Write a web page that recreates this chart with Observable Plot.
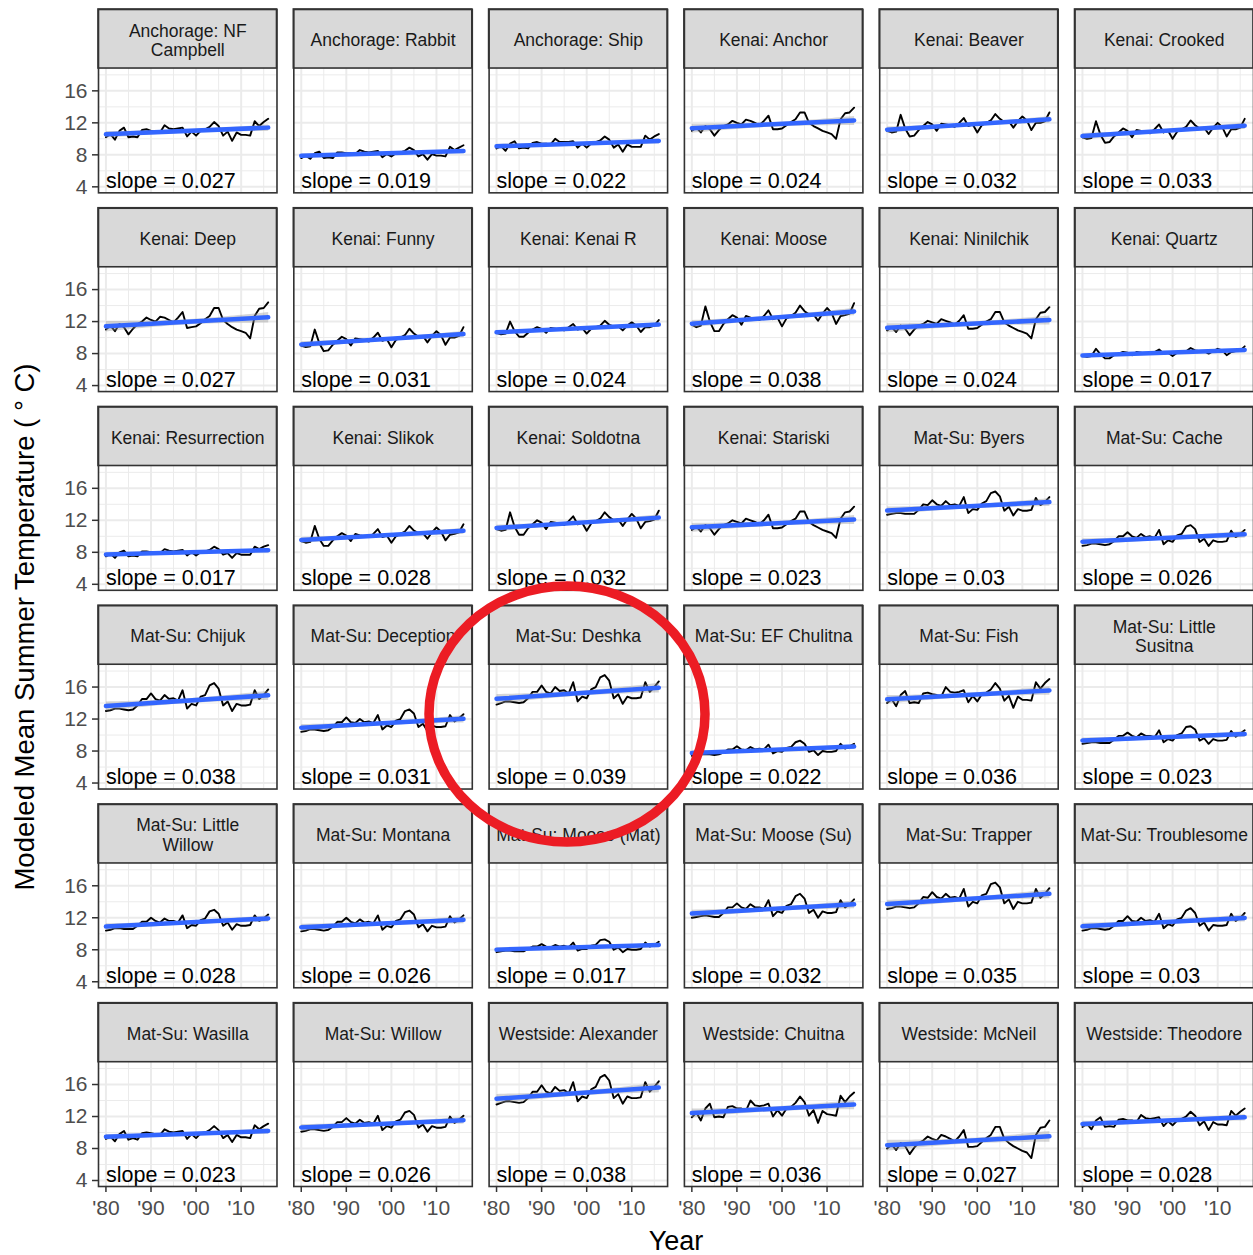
<!DOCTYPE html>
<html>
<head>
<meta charset="utf-8">
<script src="https://cdn.jsdelivr.net/npm/d3@7"></script>
<script src="https://cdn.jsdelivr.net/npm/@observablehq/plot@0.6"></script>
<style>
  html, body { margin: 0; padding: 0; background: #fff; overflow: hidden; }
  #wrap { position: relative; width: 1253px; height: 1255px; font-family: "Liberation Sans", Arial, Helvetica, sans-serif; }
  #chart { position: absolute; left: 0; top: 0; }
  .ytitle { position: absolute; left: 25px; top: 627px; transform: translate(-50%, -50%) rotate(-90deg); font-size: 27.5px; white-space: nowrap; color: #000; }
  .xtitle { position: absolute; left: 676px; top: 1241px; transform: translate(-50%, -50%); font-size: 27px; color: #000; white-space: nowrap; }
  #overlay { position: absolute; left: 0; top: 0; pointer-events: none; }
</style>
</head>
<body>
<div id="wrap">
  <div id="chart"></div>
  <div class="ytitle">Modeled Mean Summer Temperature ( ° C)</div>
  <div class="xtitle">Year</div>
  <svg id="overlay" width="1253" height="1255"><ellipse cx="567" cy="714" rx="138" ry="128" fill="none" stroke="#EC1C24" stroke-width="9.5"/></svg>
</div>
<script>
// ---------- data ----------
const years = [1980,1981,1982,1983,1984,1985,1986,1987,1988,1989,1990,1991,1992,1993,1994,1995,1996,1997,1998,1999,2000,2001,2002,2003,2004,2005,2006,2007,2008,2009,2010,2011,2012,2013,2014,2015,2016];

const sites = ["Anchorage: NF Campbell","Anchorage: Rabbit","Anchorage: Ship","Kenai: Anchor","Kenai: Beaver","Kenai: Crooked",
  "Kenai: Deep","Kenai: Funny","Kenai: Kenai R","Kenai: Moose","Kenai: Ninilchik","Kenai: Quartz",
  "Kenai: Resurrection","Kenai: Slikok","Kenai: Soldotna","Kenai: Stariski","Mat-Su: Byers","Mat-Su: Cache",
  "Mat-Su: Chijuk","Mat-Su: Deception","Mat-Su: Deshka","Mat-Su: EF Chulitna","Mat-Su: Fish","Mat-Su: Little Susitna",
  "Mat-Su: Little Willow","Mat-Su: Montana","Mat-Su: Moose (Mat)","Mat-Su: Moose (Su)","Mat-Su: Trapper","Mat-Su: Troublesome",
  "Mat-Su: Wasilla","Mat-Su: Willow","Westside: Alexander","Westside: Chuitna","Westside: McNeil","Westside: Theodore"];

const stripLabels = ["Anchorage: NF\nCampbell","Anchorage: Rabbit","Anchorage: Ship","Kenai: Anchor","Kenai: Beaver","Kenai: Crooked",
  "Kenai: Deep","Kenai: Funny","Kenai: Kenai R","Kenai: Moose","Kenai: Ninilchik","Kenai: Quartz",
  "Kenai: Resurrection","Kenai: Slikok","Kenai: Soldotna","Kenai: Stariski","Mat-Su: Byers","Mat-Su: Cache",
  "Mat-Su: Chijuk","Mat-Su: Deception","Mat-Su: Deshka","Mat-Su: EF Chulitna","Mat-Su: Fish","Mat-Su: Little\nSusitna",
  "Mat-Su: Little\nWillow","Mat-Su: Montana","Mat-Su: Moose (Mat)","Mat-Su: Moose (Su)","Mat-Su: Trapper","Mat-Su: Troublesome",
  "Mat-Su: Wasilla","Mat-Su: Willow","Westside: Alexander","Westside: Chuitna","Westside: McNeil","Westside: Theodore"];

const slopes = [0.027,0.019,0.022,0.024,0.032,0.033,
  0.027,0.031,0.024,0.038,0.024,0.017,
  0.017,0.028,0.032,0.023,0.03,0.026,
  0.038,0.031,0.039,0.022,0.036,0.023,
  0.028,0.026,0.017,0.032,0.035,0.03,
  0.023,0.026,0.038,0.036,0.027,0.028];

const nfCampbell = [10.2,10.6,9.9,11.0,11.4,10.2,10.3,10.2,11.1,11.2,11.0,11.0,10.8,11.7,11.3,11.2,11.3,11.4,10.3,10.9,10.4,11.0,11.2,11.5,12.1,11.6,10.4,10.9,9.75,10.8,10.5,10.5,10.4,12.2,11.6,12.1,12.5];
const rabbit = [7.6,7.9,7.5,8.2,8.4,7.6,7.7,7.6,8.3,8.3,8.2,8.2,8.1,8.6,8.4,8.3,8.4,8.5,7.7,8.1,7.8,8.2,8.3,8.5,8.9,8.6,7.8,8.1,7.4,8.1,7.9,7.9,7.8,9.0,8.6,8.9,9.2];
const ship = [8.8,9.1,8.5,9.4,9.7,8.8,8.9,8.8,9.5,9.6,9.4,9.4,9.3,10.0,9.6,9.6,9.6,9.7,8.9,9.4,8.9,9.4,9.6,9.8,10.3,9.9,8.9,9.3,8.4,9.3,9.0,9.0,9.0,10.4,9.9,10.3,10.6];
const anchor = [11.0,11.4,10.8,11.6,11.2,10.4,11.1,11.6,11.8,12.25,12.0,11.8,12.4,12.25,12.0,11.7,12.25,12.9,11.2,11.2,11.3,11.7,12.1,12.45,13.3,13.3,12.0,11.6,11.3,11.0,10.8,10.6,10.0,12.45,13.2,13.3,13.9];
const beaver = [11.0,10.8,10.9,13.0,11.3,10.3,10.4,11.1,11.6,12.1,11.8,11.0,11.9,11.8,11.7,11.5,12.0,12.6,11.6,11.8,10.8,11.7,12.0,12.3,13.1,12.5,12.1,12.2,11.4,12.2,12.8,12.3,11.1,12.0,12.0,12.2,13.3];
const crooked = [10.2,10.0,10.1,12.2,10.5,9.5,9.6,10.3,10.8,11.3,11.0,10.2,11.1,11.0,10.9,10.7,11.2,11.8,10.8,11.0,10.0,10.9,11.2,11.5,12.3,11.7,11.3,11.4,10.6,11.4,12.0,11.5,10.3,11.2,11.2,11.4,12.5];
const deep = [11.0,11.5,10.8,11.7,11.3,10.4,11.1,11.7,12.0,12.5,12.2,12.0,12.6,12.5,12.2,11.9,12.5,13.2,11.2,11.3,11.4,11.8,12.3,12.7,13.7,13.7,12.2,11.7,11.3,11.0,10.8,10.6,9.9,12.7,13.6,13.7,14.4];
const funny = [9.0,8.8,8.9,11.0,9.3,8.3,8.4,9.1,9.6,10.1,9.8,9.0,9.9,9.8,9.7,9.5,10.0,10.6,9.6,9.8,8.8,9.7,10.0,10.3,11.1,10.5,10.1,10.2,9.4,10.2,10.8,10.3,9.1,10.0,10.0,10.2,11.3];
const kenaiR = [10.6,10.4,10.5,12.0,10.8,10.1,10.1,10.6,11.0,11.3,11.1,10.6,11.2,11.1,11.0,10.9,11.3,11.7,11.0,11.2,10.5,11.1,11.3,11.5,12.1,11.6,11.4,11.4,10.9,11.5,11.9,11.5,10.7,11.3,11.3,11.5,12.2];
const kenaiMoose = [11.6,11.3,11.5,13.9,12.0,10.8,10.8,11.7,12.3,12.8,12.5,11.6,12.7,12.5,12.3,12.2,12.7,13.4,12.3,12.5,11.4,12.4,12.7,13.1,14.0,13.3,12.9,12.9,12.1,13.0,13.7,13.1,11.7,12.7,12.8,13.0,14.3];
const ninilchik = [10.9,11.3,10.7,11.5,11.1,10.3,11.0,11.5,11.7,12.1,11.9,11.7,12.3,12.1,11.9,11.6,12.1,12.8,11.1,11.1,11.2,11.6,12.0,12.3,13.2,13.2,11.9,11.5,11.2,10.9,10.7,10.5,9.9,12.3,13.1,13.2,13.8];
const quartz = [7.7,7.6,7.7,8.6,7.9,7.4,7.4,7.8,8.0,8.2,8.1,7.8,8.2,8.1,8.0,8.0,8.2,8.5,8.0,8.1,7.7,8.1,8.2,8.3,8.7,8.4,8.3,8.3,8.0,8.3,8.6,8.4,7.8,8.2,8.3,8.4,8.9];
const resurrection = [7.5,7.8,7.3,8.0,8.2,7.5,7.6,7.5,8.1,8.1,8.0,8.0,7.9,8.4,8.2,8.1,8.2,8.3,7.6,8.0,7.6,8.0,8.1,8.3,8.7,8.4,7.7,7.9,7.3,7.9,7.7,7.7,7.7,8.7,8.4,8.7,8.9];
const slikok = [9.4,9.2,9.3,11.3,9.7,8.8,8.8,9.5,10.0,10.4,10.1,9.4,10.3,10.1,10.0,9.9,10.3,10.9,9.9,10.1,9.2,10.0,10.3,10.6,11.3,10.7,10.4,10.4,9.7,10.5,11.1,10.6,9.5,10.2,10.3,10.5,11.5];
const soldotna = [10.9,10.7,10.8,13.0,11.2,10.2,10.2,11.0,11.5,12.0,11.7,10.9,11.8,11.7,11.6,11.4,11.9,12.5,11.5,11.7,10.7,11.6,11.9,12.2,13.0,12.4,12.0,12.1,11.3,12.1,12.8,12.2,11.0,11.8,11.9,12.1,13.2];
const stariski = [10.8,11.2,10.6,11.4,11.0,10.2,10.9,11.4,11.6,12.0,11.8,11.6,12.2,12.0,11.8,11.5,12.0,12.7,11.0,11.0,11.1,11.5,11.9,12.2,13.1,13.1,11.8,11.4,11.1,10.8,10.6,10.4,9.8,12.2,13.0,13.1,13.7];
const byers = [12.7,12.8,12.9,12.9,12.8,12.8,12.8,13.3,14.0,13.9,14.5,14.0,13.8,14.4,13.9,14.0,13.8,14.9,12.9,13.4,13.3,14.1,14.4,15.4,15.6,15.0,13.2,13.7,12.6,13.4,13.2,13.2,13.3,14.8,13.9,14.3,14.9];
const cache = [8.8,8.9,9.1,9.1,9.0,8.9,9.0,9.4,10.0,10.0,10.5,10.0,9.8,10.3,9.9,10.0,9.8,10.8,9.0,9.5,9.3,10.1,10.3,11.2,11.4,10.9,9.3,9.7,8.8,9.5,9.3,9.3,9.4,10.7,9.9,10.3,10.8];
const chijuk = [13.0,13.1,13.3,13.3,13.2,13.1,13.2,13.7,14.5,14.5,15.2,14.5,14.3,15.0,14.5,14.6,14.3,15.6,13.3,13.9,13.7,14.8,15.0,16.2,16.5,15.8,13.7,14.2,13.0,13.9,13.7,13.7,13.8,15.6,14.5,15.0,15.7];
const deception = [10.4,10.5,10.7,10.7,10.6,10.5,10.6,11.0,11.6,11.6,12.2,11.6,11.5,12.0,11.6,11.7,11.5,12.5,10.7,11.2,11.0,11.8,12.0,13.0,13.2,12.7,11.0,11.4,10.5,11.2,11.0,11.0,11.1,12.5,11.7,12.1,12.6];
const deshka = [13.8,14.0,14.2,14.2,14.1,14.0,14.1,14.6,15.4,15.4,16.2,15.4,15.2,16.0,15.5,15.6,15.2,16.6,14.2,14.8,14.6,15.7,16.0,17.2,17.5,16.8,14.6,15.1,13.9,14.8,14.6,14.6,14.7,16.6,15.4,16.0,16.7];
const efChulitna = [7.4,7.5,7.6,7.6,7.6,7.5,7.6,7.8,8.2,8.2,8.6,8.2,8.1,8.5,8.2,8.3,8.2,8.8,7.7,8.0,7.9,8.4,8.5,9.1,9.3,8.9,7.9,8.1,7.5,8.0,7.9,7.9,8.0,8.9,8.3,8.6,8.9];
const fish = [14.0,14.5,13.6,15.0,15.5,14.0,14.1,14.0,15.2,15.3,15.1,15.0,14.8,16.0,15.4,15.3,15.4,15.6,14.1,14.9,14.2,15.1,15.3,15.7,16.5,15.8,14.3,14.9,13.4,14.8,14.4,14.4,14.3,16.6,15.8,16.5,17.0];
const littleSusitna = [8.9,9.0,9.1,9.1,9.0,9.0,9.0,9.4,9.9,9.9,10.3,9.9,9.7,10.2,9.9,9.9,9.7,10.6,9.1,9.5,9.3,10.0,10.2,11.0,11.1,10.7,9.3,9.6,8.9,9.5,9.3,9.3,9.4,10.5,9.8,10.2,10.6];
const littleWillow = [10.4,10.5,10.7,10.7,10.6,10.6,10.6,11.0,11.5,11.5,12.0,11.6,11.4,11.9,11.6,11.6,11.4,12.3,10.7,11.1,11.0,11.7,11.9,12.8,13.0,12.5,11.0,11.4,10.5,11.2,11.0,11.0,11.1,12.3,11.6,11.9,12.4];
const montana = [10.3,10.4,10.6,10.6,10.5,10.4,10.5,10.9,11.5,11.5,12.0,11.5,11.3,11.8,11.4,11.5,11.3,12.3,10.5,11.0,10.8,11.6,11.8,12.7,12.9,12.4,10.8,11.2,10.3,11.0,10.8,10.8,10.9,12.2,11.4,11.8,12.3];
const mooseMat = [7.7,7.8,7.9,7.9,7.8,7.8,7.8,8.1,8.4,8.4,8.7,8.4,8.3,8.6,8.4,8.5,8.3,8.9,7.9,8.1,8.1,8.5,8.6,9.2,9.3,9.0,8.0,8.3,7.7,8.1,8.0,8.0,8.1,8.9,8.4,8.6,9.0];
const mooseSu = [12.0,12.1,12.2,12.3,12.2,12.1,12.1,12.6,13.3,13.3,13.8,13.3,13.1,13.7,13.3,13.3,13.1,14.2,12.2,12.8,12.6,13.5,13.7,14.7,15.0,14.4,12.6,13.0,12.0,12.8,12.6,12.6,12.7,14.2,13.3,13.7,14.3];
const trapper = [13.1,13.2,13.4,13.4,13.3,13.2,13.3,13.8,14.6,14.5,15.2,14.6,14.4,15.0,14.5,14.6,14.4,15.6,13.4,14.0,13.8,14.8,15.0,16.2,16.4,15.8,13.8,14.3,13.1,14.0,13.8,13.8,13.9,15.6,14.5,15.0,15.7];
const troublesome = [10.4,10.5,10.7,10.7,10.6,10.5,10.6,11.0,11.6,11.6,12.2,11.6,11.5,12.0,11.6,11.7,11.5,12.5,10.7,11.2,11.0,11.8,12.0,12.9,13.2,12.6,11.0,11.4,10.4,11.1,11.0,11.0,11.1,12.5,11.6,12.0,12.6];
const wasilla = [9.2,9.5,8.9,9.8,10.2,9.1,9.3,9.1,9.9,10.0,9.9,9.8,9.7,10.4,10.1,10.0,10.1,10.2,9.2,9.8,9.3,9.9,10.0,10.3,10.8,10.3,9.3,9.7,8.8,9.7,9.4,9.4,9.3,10.9,10.4,10.8,11.1];
const willow = [10.1,10.2,10.4,10.4,10.3,10.2,10.3,10.7,11.3,11.3,11.8,11.3,11.1,11.6,11.2,11.3,11.1,12.1,10.3,10.8,10.6,11.4,11.6,12.5,12.7,12.2,10.6,11.0,10.1,10.8,10.6,10.6,10.7,12.0,11.2,11.6,12.1];
const alexander = [13.5,13.7,13.9,13.9,13.8,13.7,13.8,14.3,15.1,15.1,15.9,15.1,14.9,15.7,15.2,15.3,14.9,16.3,13.9,14.5,14.3,15.4,15.7,16.9,17.2,16.5,14.3,14.8,13.6,14.5,14.3,14.3,14.4,16.3,15.1,15.7,16.4];
const chuitna = [11.9,12.5,11.5,13.0,13.6,11.9,12.0,11.9,13.2,13.3,13.0,13.0,12.7,14.0,13.4,13.3,13.4,13.6,12.0,12.8,12.1,13.0,13.2,13.7,14.5,13.8,12.1,12.8,11.2,12.7,12.3,12.2,12.1,14.6,13.8,14.5,15.0];
const mcneil = [8.0,8.5,7.8,8.7,8.3,7.3,8.1,8.7,9.0,9.5,9.2,9.0,9.7,9.5,9.2,8.9,9.5,10.3,8.2,8.2,8.3,8.8,9.3,9.7,10.7,10.7,9.2,8.7,8.3,8.0,7.7,7.5,6.8,9.7,10.6,10.7,11.5];
const theodore = [10.7,11.1,10.4,11.5,11.9,10.7,10.8,10.7,11.6,11.7,11.5,11.5,11.3,12.2,11.8,11.7,11.8,11.9,10.8,11.4,10.9,11.5,11.7,12.0,12.6,12.1,10.9,11.4,10.3,11.3,11.0,11.0,10.9,12.7,12.1,12.6,13.0];

const series = [nfCampbell, rabbit, ship, anchor, beaver, crooked,
  deep, funny, kenaiR, kenaiMoose, ninilchik, quartz,
  resurrection, slikok, soldotna, stariski, byers, cache,
  chijuk, deception, deshka, efChulitna, fish, littleSusitna,
  littleWillow, montana, mooseMat, mooseSu, trapper, troublesome,
  wasilla, willow, alexander, chuitna, mcneil, theodore];

const yTicks = [4, 8, 12, 16];
const yMinor = [6, 10, 14, 18];
const xTicks = [1980, 1990, 2000, 2010];
const xMinor = [1985, 1995, 2005, 2015];

// ---------- layout (scale extents) ----------
const xDomain = [1978.35, 2017.95];
const yPanel = [3.25, 18.79];   // panel value range
const yTop = 26.17;             // strip sits above the panel inside each facet

const rows = [];
series.forEach((vals, k) => vals.forEach((t, i) => rows.push({
  site: sites[k], col: k % 6, row: Math.floor(k / 6), year: years[i], temp: t
})));
const panels = sites.map((s, k) => ({site: s, label: stripLabels[k], slope: slopes[k], col: k % 6, row: Math.floor(k / 6)}));

const FONT = '"Liberation Sans", Arial, Helvetica, sans-serif';

const chart = Plot.plot({
  width: 1253,
  height: 1255,
  marginLeft: 98,
  marginRight: 0,
  marginTop: 9,
  marginBottom: 69,
  facet: {marginTop: 0, marginRight: 0, marginBottom: 0, marginLeft: 0},
  style: {fontFamily: FONT, background: "transparent", overflow: "visible"},
  fx: {domain: d3.range(6), axis: null, paddingInner: 0.0861, paddingOuter: 0, round: false, label: null},
  fy: {domain: d3.range(6), axis: null, paddingInner: 0.0775, paddingOuter: 0, round: false, label: null},
  x: {domain: xDomain},
  y: {domain: [yPanel[0], yTop]},
  marks: [
    Plot.ruleY(yMinor, {stroke: "#EBEBEB", strokeWidth: 1}),
    Plot.ruleY(yTicks, {stroke: "#EBEBEB", strokeWidth: 2}),
    Plot.ruleX(xMinor, {stroke: "#EBEBEB", strokeWidth: 1}),
    Plot.ruleX(xTicks, {stroke: "#EBEBEB", strokeWidth: 2}),
    Plot.line(rows, {x: "year", y: "temp", z: "site", fx: "col", fy: "row", stroke: "#000", strokeWidth: 1.9}),
    Plot.linearRegressionY(rows, {x: "year", y: "temp", z: "site", fx: "col", fy: "row",
      stroke: "#3366FF", strokeWidth: 4.5, fill: "#999999", fillOpacity: 0.4}),
    Plot.text(panels, {x: years[0], y: 3.85, fx: "col", fy: "row", text: d => "slope = " + d.slope,
      textAnchor: "start", lineAnchor: "bottom", fontSize: 21.5, fill: "#000"}),
    Plot.rect(panels, {x1: xDomain[0], x2: xDomain[1], y1: yPanel[1], y2: yTop, fx: "col", fy: "row",
      fill: "#D9D9D9", stroke: "#333333", strokeWidth: 1.6}),
    Plot.text(panels, {x: (xDomain[0] + xDomain[1]) / 2, y: (yPanel[1] + yTop) / 2, fx: "col", fy: "row",
      text: "label", fontSize: 17.5, fill: "#1A1A1A", lineHeight: 1.1, dy: 1}),
    Plot.frame({stroke: "#333333", strokeWidth: 1.6}),
    Plot.axisY({ticks: yTicks, tickSize: 6, tickPadding: 5, fontSize: 21, stroke: "#333333", fill: "#4D4D4D", strokeWidth: 1.5, label: null}),
    Plot.axisX({ticks: xTicks, tickFormat: d => "'" + String(d).slice(2), tickSize: 6, tickPadding: 8, fontSize: 21,
      stroke: "#333333", fill: "#4D4D4D", strokeWidth: 1.5, label: null})
  ]
});
document.getElementById("chart").appendChild(chart);
</script>
</body>
</html>
